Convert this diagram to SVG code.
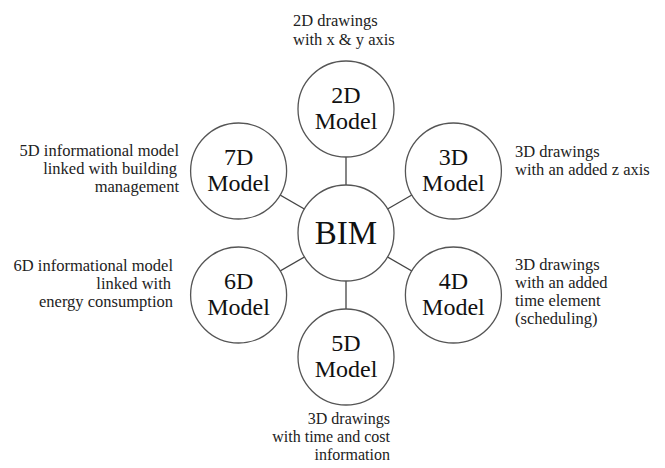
<svg xmlns="http://www.w3.org/2000/svg" width="665" height="468" viewBox="0 0 665 468">
<style>
.node{fill:#fff;stroke:#555;stroke-width:1.3}
.conn{stroke:#444;stroke-width:1.3}
.lbl{font-family:"Liberation Serif","Times New Roman",serif;font-size:24px;fill:#111;text-anchor:middle}
.big{font-family:"Liberation Serif","Times New Roman",serif;font-size:33px;fill:#111;text-anchor:middle}
.desc{font-family:"Liberation Serif","Times New Roman",serif;font-size:16.5px;fill:#222}
.sm{font-size:16px}
</style>
<rect width="665" height="468" fill="#fff"/>
<g id="connectors">
<line class="conn" x1="346" y1="233" x2="346" y2="109"/>
<line class="conn" x1="346" y1="233" x2="346" y2="357"/>
<line class="conn" x1="346" y1="233" x2="453.4" y2="171"/>
<line class="conn" x1="346" y1="233" x2="453.4" y2="295"/>
<line class="conn" x1="346" y1="233" x2="238.6" y2="295"/>
<line class="conn" x1="346" y1="233" x2="238.6" y2="171"/>
</g>
<g id="bim">
<circle class="node" cx="346" cy="233" r="48"/>
<text class="big" x="346" y="244">BIM</text>
</g>
<g id="model2d">
<circle class="node" cx="346" cy="109" r="48"/>
<text class="lbl" x="346" y="103">2D</text>
<text class="lbl" x="346" y="129">Model</text>
<text class="desc" x="293" y="26">2D drawings</text>
<text class="desc" x="293" y="45">with x &amp; y axis</text>
</g>
<g id="model3d">
<circle class="node" cx="453.4" cy="171" r="48"/>
<text class="lbl" x="453.4" y="165">3D</text>
<text class="lbl" x="453.4" y="191">Model</text>
<text class="desc" x="515" y="157">3D drawings</text>
<text class="desc" x="515" y="175">with an added z axis</text>
</g>
<g id="model4d">
<circle class="node" cx="453.4" cy="295" r="48"/>
<text class="lbl" x="453.4" y="289">4D</text>
<text class="lbl" x="453.4" y="315">Model</text>
<text class="desc" x="515" y="270">3D drawings</text>
<text class="desc" x="515" y="288">with an added</text>
<text class="desc" x="515" y="306">time element</text>
<text class="desc" x="515" y="324">(scheduling)</text>
</g>
<g id="model5d">
<circle class="node" cx="346" cy="357" r="48"/>
<text class="lbl" x="346" y="351">5D</text>
<text class="lbl" x="346" y="377">Model</text>
<text class="desc sm" x="390" y="424" text-anchor="end">3D drawings</text>
<text class="desc sm" x="390" y="442" text-anchor="end">with time and cost</text>
<text class="desc sm" x="390" y="460" text-anchor="end">information</text>
</g>
<g id="model6d">
<circle class="node" cx="238.6" cy="295" r="48"/>
<text class="lbl" x="238.6" y="289">6D</text>
<text class="lbl" x="238.6" y="315">Model</text>
<text class="desc" x="173" y="271" text-anchor="end">6D informational model</text>
<text class="desc" x="171" y="289" text-anchor="end">linked with</text>
<text class="desc" x="173" y="307" text-anchor="end">energy consumption</text>
</g>
<g id="model7d">
<circle class="node" cx="238.6" cy="171" r="48"/>
<text class="lbl" x="238.6" y="165">7D</text>
<text class="lbl" x="238.6" y="191">Model</text>
<text class="desc" x="179" y="156" text-anchor="end">5D informational model</text>
<text class="desc" x="177" y="174" text-anchor="end">linked with building</text>
<text class="desc" x="179" y="192" text-anchor="end">management</text>
</g>
</svg>
